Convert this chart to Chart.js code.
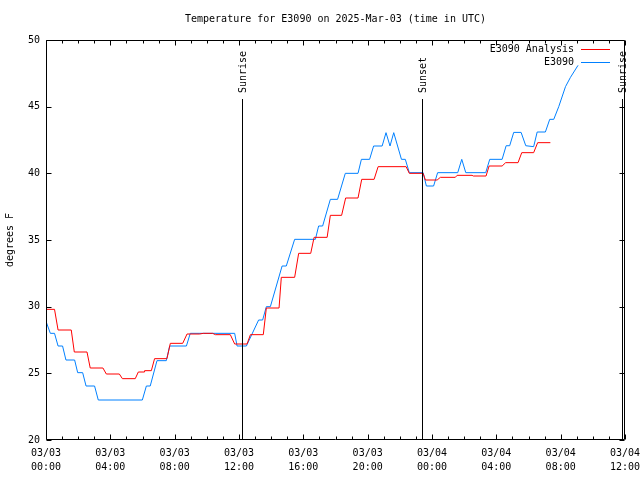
<!DOCTYPE html>
<html>
<head>
<meta charset="utf-8">
<script src="https://cdn.jsdelivr.net/npm/chart.js@4"></script>
<style>
	body { margin: 0; background: #fff; }
</style>
</head>
<body>
<canvas id="temp-chart" width="640" height="480"></canvas>
<script>
// hours since 03/03 00:00 UTC, temperatures in F
var analysisHours = [0.0, 0.53, 0.75, 1.57, 1.76, 2.55, 2.75, 3.54, 3.75, 4.56, 4.75, 5.55, 5.74, 6.11, 6.13, 6.55,
	6.75, 7.52, 7.73, 8.5, 8.77, 9.55, 9.78, 10.36, 10.53, 11.46, 11.73, 12.5, 12.71, 13.51, 13.7, 14.49,
	14.63, 15.46, 15.71, 16.46, 16.67, 17.48, 17.68, 18.38, 18.63, 19.4, 19.63, 20.4, 20.65, 22.39, 22.59, 23.45,
	23.59, 24.32, 24.52, 25.45, 25.56, 26.49, 26.57, 27.36, 27.55, 28.36, 28.58, 29.35, 29.58, 30.32, 30.57, 31.36];
var analysisTemps = [29.8, 29.8, 28.25, 28.25, 26.6, 26.6, 25.4, 25.4, 24.95, 24.95, 24.6, 24.6, 25.1, 25.1, 25.2, 25.2,
	26.1, 26.1, 27.25, 27.25, 27.95, 27.95, 28.0, 28.0, 27.9, 27.9, 27.2, 27.2, 27.9, 27.9, 29.9, 29.9,
	32.2, 32.2, 34.0, 34.0, 35.2, 35.2, 36.85, 36.85, 38.15, 38.15, 39.55, 39.55, 40.5, 40.5, 40.0, 40.0,
	39.5, 39.5, 39.7, 39.7, 39.85, 39.85, 39.8, 39.8, 40.55, 40.55, 40.8, 40.8, 41.55, 41.55, 42.3, 42.3];

var obsHours = [0.0, 0.27, 0.53, 0.75, 1.03, 1.24, 1.78, 1.97, 2.28, 2.49, 3.02, 3.25, 5.99, 6.24, 6.48, 6.9,
	7.48, 7.69, 8.73, 8.97, 11.73, 11.88, 12.46, 13.22, 13.47, 13.7, 13.95, 14.68, 14.94, 15.46, 16.75, 16.95,
	17.2, 17.68, 18.13, 18.61, 19.4, 19.61, 20.12, 20.37, 20.9, 21.14, 21.39, 21.62, 22.1, 22.34, 22.59, 23.45,
	23.65, 24.1, 24.35, 25.6, 25.85, 26.1, 27.34, 27.59, 28.36, 28.61, 28.83, 29.08, 29.54, 29.83, 30.32, 30.54,
	31.05, 31.32, 31.57, 31.88, 32.3, 32.61, 33.08];
var obsTemps = [28.9, 28.0, 28.0, 27.05, 27.05, 26.0, 26.0, 25.05, 25.05, 24.05, 24.05, 23.0, 23.0, 24.05, 24.05, 25.95,
	25.95, 27.05, 27.05, 28.0, 28.0, 27.05, 27.05, 29.0, 29.0, 30.0, 30.0, 33.05, 33.05, 35.05, 35.05, 36.05,
	36.05, 38.05, 38.05, 40.0, 40.0, 41.05, 41.05, 42.05, 42.05, 43.05, 42.05, 43.05, 41.05, 41.05, 40.05, 40.05,
	39.05, 39.05, 40.05, 40.05, 41.05, 40.05, 40.05, 41.05, 41.05, 42.07, 42.07, 43.07, 43.07, 42.07, 42.0, 43.1,
	43.1, 44.05, 44.05, 45.0, 46.5, 47.2, 48.1];

var xTickLabels = [["03/03", "00:00"], ["03/03", "04:00"], ["03/03", "08:00"], ["03/03", "12:00"], ["03/03", "16:00"],
	["03/03", "20:00"], ["03/04", "00:00"], ["03/04", "04:00"], ["03/04", "08:00"], ["03/04", "12:00"]];

var sunHours = [12.2, 23.4, 35.82];
var sunLabels = ["Sunrise", "Sunset", "Sunrise"];

function toPoints(xs, ys) {
	var pts = [];
	for (var i = 0; i < xs.length; i++) pts.push({ x: xs[i], y: ys[i] });
	return pts;
}

var monoFont = "'DejaVu Sans Mono', monospace";
Chart.defaults.font.family = monoFont;
Chart.defaults.font.size = 10;
Chart.defaults.color = "#000";

// gnuplot-like frame: box, inward ticks, sun lines, legend
var framePlugin = {
	id: "frame",
	afterDatasetsDraw: function (chart) {
		var ctx = chart.ctx, a = chart.chartArea;
		var xs = chart.scales.x, ys = chart.scales.y;
		var l = Math.round(a.left) + 0.5, r = Math.round(a.right) - 0.5;
		var t = Math.round(a.top) + 0.5, b = Math.round(a.bottom) - 0.5;
		ctx.save();
		ctx.strokeStyle = "#000";
		ctx.lineWidth = 1;
		ctx.beginPath();
		ctx.rect(l, t, r - l, b - t);
		for (var h = 0; h <= 36; h++) {
			var px = Math.round(xs.getPixelForValue(h)) + 0.5;
			var len = h % 4 === 0 ? 5 : 3;
			ctx.moveTo(px, b); ctx.lineTo(px, b - len);
			ctx.moveTo(px, t); ctx.lineTo(px, t + len);
		}
		for (var v = 20; v <= 50; v += 5) {
			var py = Math.round(ys.getPixelForValue(v)) + 0.5;
			ctx.moveTo(l, py); ctx.lineTo(l + 5, py);
			ctx.moveTo(r, py); ctx.lineTo(r - 5, py);
		}
		for (var i = 0; i < sunHours.length; i++) {
			var sx = Math.round(xs.getPixelForValue(sunHours[i])) + 0.5;
			ctx.moveTo(sx, 99); ctx.lineTo(sx, b);
		}
		ctx.stroke();

		ctx.fillStyle = "#000";
		ctx.font = "10px " + monoFont;
		ctx.textBaseline = "middle";
		for (var j = 0; j < sunHours.length; j++) {
			var lx = Math.round(xs.getPixelForValue(sunHours[j])) + 1;
			ctx.save();
			ctx.translate(lx, 93);
			ctx.rotate(-Math.PI / 2);
			ctx.textAlign = "left";
			ctx.fillText(sunLabels[j], 0, 0);
			ctx.restore();
		}

		var ds = chart.data.datasets;
		for (var k = 0; k < ds.length; k++) {
			var ly = 49.5 + k * 13;
			ctx.textAlign = "right";
			ctx.fillText(ds[k].label, 574, ly);
			ctx.strokeStyle = ds[k].borderColor;
			ctx.beginPath();
			ctx.moveTo(581, ly); ctx.lineTo(610, ly);
			ctx.stroke();
		}
		ctx.restore();
	}
};

var chart = new Chart(document.getElementById("temp-chart"), {
	type: "line",
	data: {
		datasets: [
			{
				label: "E3090 Analysis",
				data: toPoints(analysisHours, analysisTemps),
				borderColor: "#ff0000",
				borderWidth: 1,
				pointRadius: 0,
				fill: false
			},
			{
				label: "E3090",
				data: toPoints(obsHours, obsTemps),
				borderColor: "#0080ff",
				borderWidth: 1,
				pointRadius: 0,
				fill: false
			}
		]
	},
	options: {
		responsive: false,
		animation: false,
		layout: { padding: { left: 0, right: 15, top: 0, bottom: 0 } },
		plugins: {
			title: {
				display: true,
				fullSize: false,
				text: "Temperature for E3090 on 2025-Mar-03 (time in UTC)",
				font: { size: 10, weight: "normal" },
				color: "#000",
				padding: { top: 13, bottom: 15 }
			},
			legend: { display: false },
			tooltip: { enabled: false }
		},
		scales: {
			x: {
				type: "linear",
				min: 0,
				max: 36,
				grid: { display: false, drawTicks: false },
				border: { display: false },
				afterFit: function (scale) {
					scale.height = 40;
					scale.paddingLeft = 0;
					scale.paddingRight = 0;
				},
				ticks: {
					stepSize: 4,
					autoSkip: false,
					maxRotation: 0,
					padding: 6,
					font: { size: 10, lineHeight: 1.4 },
					callback: function (value, index) { return xTickLabels[index]; }
				}
			},
			y: {
				min: 20,
				max: 50,
				grid: { display: false, drawTicks: false },
				border: { display: false },
				afterFit: function (scale) { scale.width = 46; },
				title: {
					display: true,
					text: "degrees F",
					font: { size: 10 },
					padding: { top: 4, bottom: 0 }
				},
				ticks: { stepSize: 5, padding: 6 }
			}
		}
	},
	plugins: [framePlugin]
});
</script>
</body>
</html>
